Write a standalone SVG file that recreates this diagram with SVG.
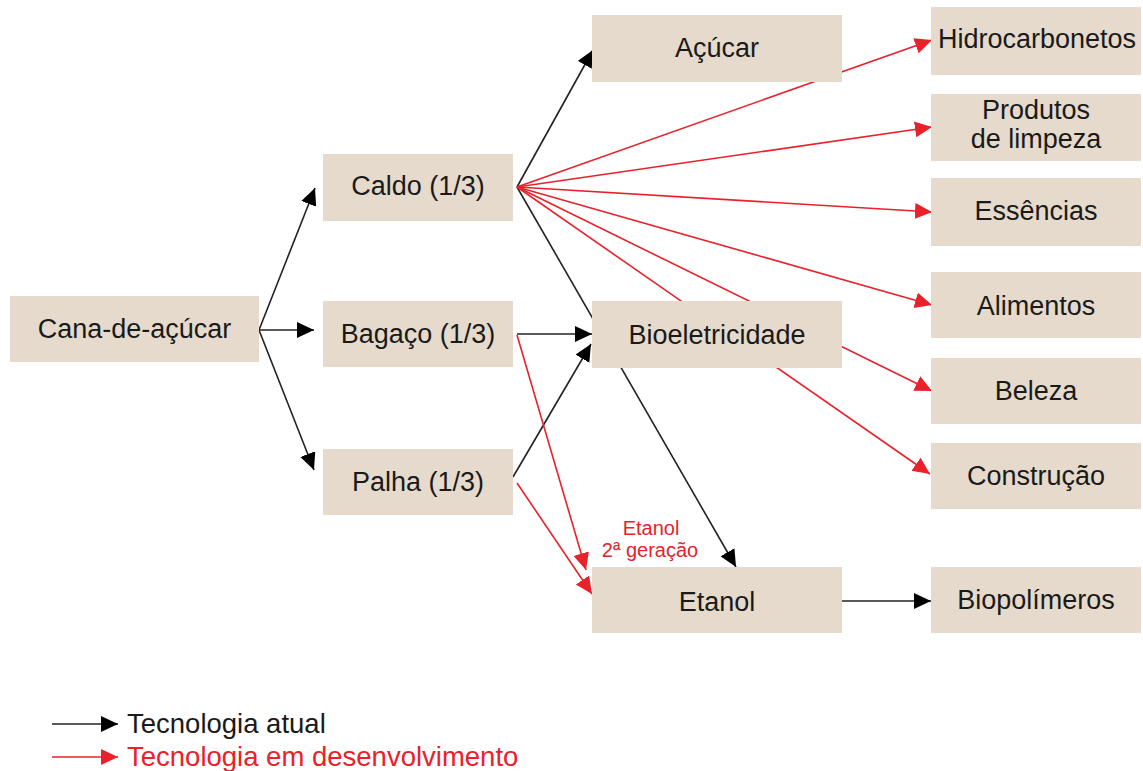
<svg xmlns="http://www.w3.org/2000/svg" width="1143" height="771" viewBox="0 0 1143 771">
<style>
.box{fill:#e6dacc}
.t{font-family:"Liberation Sans",Arial,sans-serif;font-size:27px;fill:#1a1a1a;text-anchor:middle}
.blk{stroke:#222;stroke-width:1.6;fill:none;marker-end:url(#ab)}
.red{stroke:#e8212b;stroke-width:1.6;fill:none;marker-end:url(#ar)}
.lbl{font-family:"Liberation Sans",Arial,sans-serif;font-size:20px;fill:#e8212b;text-anchor:middle}
.leg{font-family:"Liberation Sans",Arial,sans-serif;font-size:27.5px}
</style>
<defs>
<marker id="ab" markerUnits="userSpaceOnUse" markerWidth="19" markerHeight="17" refX="17" refY="8" orient="auto"><path d="M0,0 L17,8 L0,16 z" fill="#000"/></marker>
<marker id="ar" markerUnits="userSpaceOnUse" markerWidth="19" markerHeight="17" refX="17" refY="8" orient="auto"><path d="M0,0 L17,8 L0,16 z" fill="#e8212b"/></marker>
</defs>
<rect width="1143" height="771" fill="#fff"/>
<g id="connectors">
<line class="blk" x1="259" y1="330" x2="315" y2="188"/>
<line class="blk" x1="259" y1="330" x2="314" y2="330"/>
<line class="blk" x1="259" y1="330" x2="314" y2="470"/>
<line class="blk" x1="517" y1="187" x2="593" y2="50"/>
<line class="blk" x1="517" y1="187" x2="736" y2="567"/>
<line class="blk" x1="517" y1="334" x2="592" y2="334"/>
<line class="blk" x1="513" y1="477" x2="591" y2="344"/>
<line class="blk" x1="842" y1="601" x2="931" y2="601"/>
<line class="red" x1="517" y1="187" x2="932" y2="40"/>
<line class="red" x1="517" y1="187" x2="932" y2="127"/>
<line class="red" x1="517" y1="187" x2="932" y2="212"/>
<line class="red" x1="517" y1="187" x2="932" y2="305"/>
<line class="red" x1="517" y1="187" x2="932" y2="391"/>
<line class="red" x1="517" y1="187" x2="930" y2="474"/>
<line class="red" x1="517" y1="335" x2="586" y2="570"/>
<line class="red" x1="517" y1="483" x2="592" y2="594"/>
<text class="lbl" x="651" y="535">Etanol</text>
<text class="lbl" x="650" y="557">2ª geração</text>
</g>
<g id="cana"><rect class="box" x="10" y="296" width="249" height="66"/><text class="t" x="134.5" y="338">Cana-de-açúcar</text></g>
<g id="caldo"><rect class="box" x="323" y="154" width="190" height="67"/><text class="t" x="418" y="195">Caldo (1/3)</text></g>
<g id="bagaco"><rect class="box" x="323" y="301" width="190" height="66"/><text class="t" x="418" y="343">Bagaço (1/3)</text></g>
<g id="palha"><rect class="box" x="323" y="449" width="190" height="66"/><text class="t" x="418" y="491">Palha (1/3)</text></g>
<g id="acucar"><rect class="box" x="592" y="15" width="250" height="67"/><text class="t" x="717" y="57">Açúcar</text></g>
<g id="bioeletricidade"><rect class="box" x="592" y="301" width="250" height="67"/><text class="t" x="717" y="344">Bioeletricidade</text></g>
<g id="etanol"><rect class="box" x="592" y="567" width="250" height="66"/><text class="t" x="717" y="611">Etanol</text></g>
<g id="hidrocarbonetos"><rect class="box" x="931" y="7" width="210" height="68"/><text class="t" x="1037" y="48">Hidrocarbonetos</text></g>
<g id="produtos"><rect class="box" x="931" y="94" width="210" height="67"/><text class="t" x="1036" y="119">Produtos</text><text class="t" x="1036" y="148">de limpeza</text></g>
<g id="essencias"><rect class="box" x="931" y="178" width="210" height="68"/><text class="t" x="1036" y="220">Essências</text></g>
<g id="alimentos"><rect class="box" x="931" y="272" width="210" height="66"/><text class="t" x="1036" y="315">Alimentos</text></g>
<g id="beleza"><rect class="box" x="931" y="358" width="210" height="66"/><text class="t" x="1036" y="400">Beleza</text></g>
<g id="construcao"><rect class="box" x="931" y="443" width="210" height="66"/><text class="t" x="1036" y="485">Construção</text></g>
<g id="biopolimeros"><rect class="box" x="931" y="567" width="210" height="66"/><text class="t" x="1036" y="609">Biopolímeros</text></g>
<g id="legend">
<line class="blk" x1="52" y1="724" x2="118" y2="724"/>
<text class="leg" x="127" y="733" fill="#1a1a1a">Tecnologia atual</text>
<line class="red" x1="52" y1="757" x2="118" y2="757"/>
<text class="leg" x="127" y="766" fill="#e8212b">Tecnologia em desenvolvimento</text>
</g>
</svg>
